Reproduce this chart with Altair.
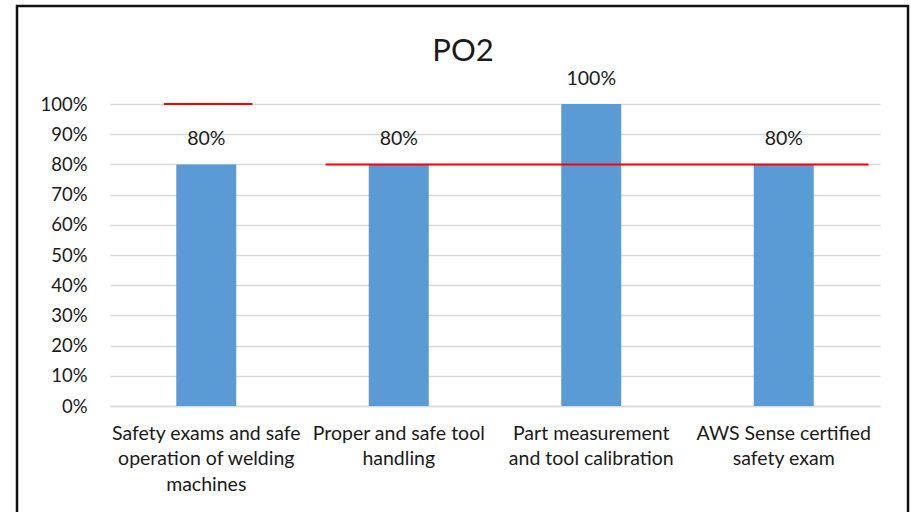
import altair as alt
import pandas as pd

# Outcome scores for PO2
categories = [
    "Safety exams and safe\noperation of welding\nmachines",
    "Proper and safe tool\nhandling",
    "Part measurement\nand tool calibration",
    "AWS Sense certified\nsafety exam",
]
scores = [0.80, 0.80, 1.00, 0.80]
score_labels = ["80%", "80%", "100%", "80%"]

# Target lines: value and horizontal extent in category units (0..4)
target_values = [1.00, 0.80]
target_start = [0.28, 1.12]
target_end = [0.74, 3.94]

FONT = "Lato"
TEXT = "#1a1a1a"
GRID = "#d9d9d9"

bars_df = pd.DataFrame({"category": categories, "score": scores, "label": score_labels})
targets_df = pd.DataFrame({"target": target_values, "start": target_start, "end": target_end})

y_scale = alt.Scale(domain=[0, 1], nice=False)
y_axis = alt.Axis(
    format=".0%",
    values=[i / 10 for i in range(11)],
    labelOverlap=False,
    grid=True,
    gridColor=GRID,
    gridWidth=1.5,
    domain=False,
    ticks=False,
    labelFont=FONT,
    labelFontSize=18.5,
    labelColor=TEXT,
    labelPadding=23,
    title=None,
)

band = alt.Scale(paddingInner=0, paddingOuter=0)

x_enc = alt.X(
    "category:N",
    sort=None,
    scale=band,
    axis=alt.Axis(
        labelAngle=0,
        labelExpr="split(datum.label, '\\n')",
        labelFont=FONT,
        labelFontSize=19.5,
        labelColor=TEXT,
        labelLineHeight=25.5,
        labelLimit=400,
        labelPadding=18,
        ticks=False,
        domainColor=GRID,
        domainWidth=1.5,
        title=None,
    ),
)

bars = alt.Chart(bars_df).mark_bar(width=60, color="#5B9BD5").encode(
    x=x_enc, y=alt.Y("score:Q", scale=y_scale, axis=y_axis)
)

labels = alt.Chart(bars_df).mark_text(
    font=FONT, fontSize=19.5, color=TEXT, baseline="alphabetic", dy=-19
).encode(
    x=alt.X("category:N", sort=None, scale=band, axis=None),
    y=alt.Y("score:Q", scale=y_scale, axis=y_axis),
    text="label:N",
)

targets = alt.Chart(targets_df).mark_rule(color="#FF0000", strokeWidth=2).encode(
    x=alt.X("start:Q", scale=alt.Scale(domain=[0, 4], nice=False, zero=False), axis=None),
    x2="end:Q",
    y=alt.Y("target:Q", scale=y_scale, axis=y_axis),
)

# Outer frame around the whole chart
frame = alt.Chart(pd.DataFrame({"k": [0]})).mark_rect(
    fill="transparent", stroke="#111111", strokeWidth=2.5
).encode(
    x=alt.value(-93), x2=alt.value(798), y=alt.value(-98), y2=alt.value(430)
)

chart = (
    alt.layer(bars, labels, targets, frame)
    .resolve_scale(x="independent")
    .properties(
        width=770,
        height=302,
        autosize=alt.AutoSizeParams(type="none"),
        padding={"left": 110, "top": 104, "right": 31, "bottom": 106},
        title=alt.TitleParams(
            text="PO2",
            font=FONT,
            fontSize=31,
            fontWeight="normal",
            color=TEXT,
            anchor="middle",
            dx=-32,
            offset=0,
            dy=63,
        ),
        background="white",
    )
    .configure_view(stroke=None)
)

chart.save("out.html", embed_options={"renderer": "svg", "actions": False})
